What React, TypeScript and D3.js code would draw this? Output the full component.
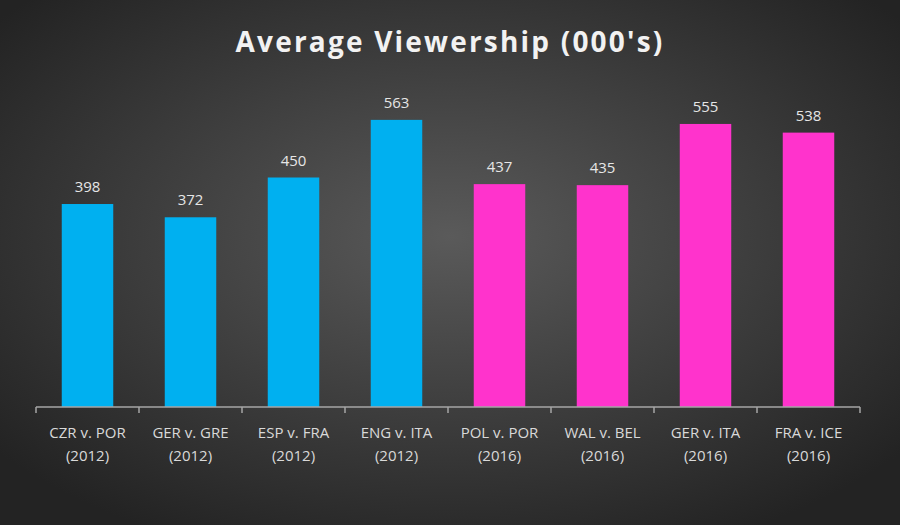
import React, { useEffect, useRef } from "react";
import * as d3 from "d3";

const matches = ["CZR v. POR", "GER v. GRE", "ESP v. FRA", "ENG v. ITA", "POL v. POR", "WAL v. BEL", "GER v. ITA", "FRA v. ICE"];
const years = ["2012", "2012", "2012", "2012", "2016", "2016", "2016", "2016"];
const viewers = [398, 372, 450, 563, 437, 435, 555, 538];

const W = 900;
const H = 525;

const App: React.FC = () => {
  const ref = useRef<SVGSVGElement>(null);

  useEffect(() => {
    const svg = d3.select(ref.current);
    svg.selectAll("*").remove();

    const defs = svg.append("defs");
    const grad = defs
      .append("radialGradient")
      .attr("id", "bg")
      .attr("cx", "50%")
      .attr("cy", "45%")
      .attr("r", "65%");
    grad.append("stop").attr("offset", "0%").attr("stop-color", "#5a5a5a");
    grad.append("stop").attr("offset", "100%").attr("stop-color", "#232323");

    svg.append("rect").attr("width", W).attr("height", H).attr("fill", "url(#bg)");

    // title
    svg
      .append("text")
      .attr("x", W / 2)
      .attr("y", 52)
      .attr("text-anchor", "middle")
      .attr("fill", "#f2f2f2")
      .style("font-family", "'Open Sans', sans-serif")
      .style("font-weight", "bold")
      .style("font-size", "28px")
      .style("letter-spacing", "2.2px")
      .text("Average Viewership (000's)");

    const keys = matches.map((m, i) => m + "|" + i);
    const x = d3.scaleBand().domain(keys).range([36, 860]).paddingInner(0.5).paddingOuter(0.25);
    const y = d3.scaleLinear().domain([0, 600]).range([407, 101]);
    const step = x.step();

    const g = svg.append("g");

    g.selectAll("rect.bar")
      .data(viewers)
      .enter()
      .append("rect")
      .attr("class", "bar")
      .attr("x", (_, i) => x(keys[i]) as number)
      .attr("width", x.bandwidth())
      .attr("y", (d) => y(d))
      .attr("height", (d) => y(0) - y(d))
      .attr("fill", (_, i) => (years[i] === "2012" ? "#00b0f0" : "#ff33cc"));

    g.selectAll("text.val")
      .data(viewers)
      .enter()
      .append("text")
      .attr("class", "val")
      .attr("x", (_, i) => (x(keys[i]) as number) + x.bandwidth() / 2)
      .attr("y", (d) => y(d) - 12)
      .attr("text-anchor", "middle")
      .attr("fill", "#e6e6e6")
      .style("font-family", "'Open Sans', sans-serif")
      .style("font-size", "15px")
      .text((d) => d);

    // axis line and ticks at category boundaries
    g.append("line")
      .attr("x1", 36)
      .attr("x2", 860)
      .attr("y1", y(0))
      .attr("y2", y(0))
      .attr("stroke", "#a6a6a6")
      .attr("stroke-width", 1.5);

    g.selectAll("line.tick")
      .data(d3.range(keys.length + 1))
      .enter()
      .append("line")
      .attr("class", "tick")
      .attr("x1", (i) => 36 + i * step)
      .attr("x2", (i) => 36 + i * step)
      .attr("y1", y(0))
      .attr("y2", y(0) + 6)
      .attr("stroke", "#a6a6a6")
      .attr("stroke-width", 1.5);

    const lbl = g
      .selectAll("text.cat")
      .data(keys)
      .enter()
      .append("text")
      .attr("class", "cat")
      .attr("text-anchor", "middle")
      .attr("fill", "#d9d9d9")
      .style("font-family", "'Open Sans', sans-serif")
      .style("font-size", "15px");
    lbl
      .append("tspan")
      .attr("x", (k) => (x(k) as number) + x.bandwidth() / 2)
      .attr("y", 438)
      .text((_, i) => matches[i]);
    lbl
      .append("tspan")
      .attr("x", (k) => (x(k) as number) + x.bandwidth() / 2)
      .attr("y", 461)
      .text((_, i) => "(" + years[i] + ")");
  }, []);

  return (
    <svg
      ref={ref}
      width={W}
      height={H}
      style={{ position: "absolute", left: 0, top: 0, display: "block" }}
    />
  );
};

export default App;
